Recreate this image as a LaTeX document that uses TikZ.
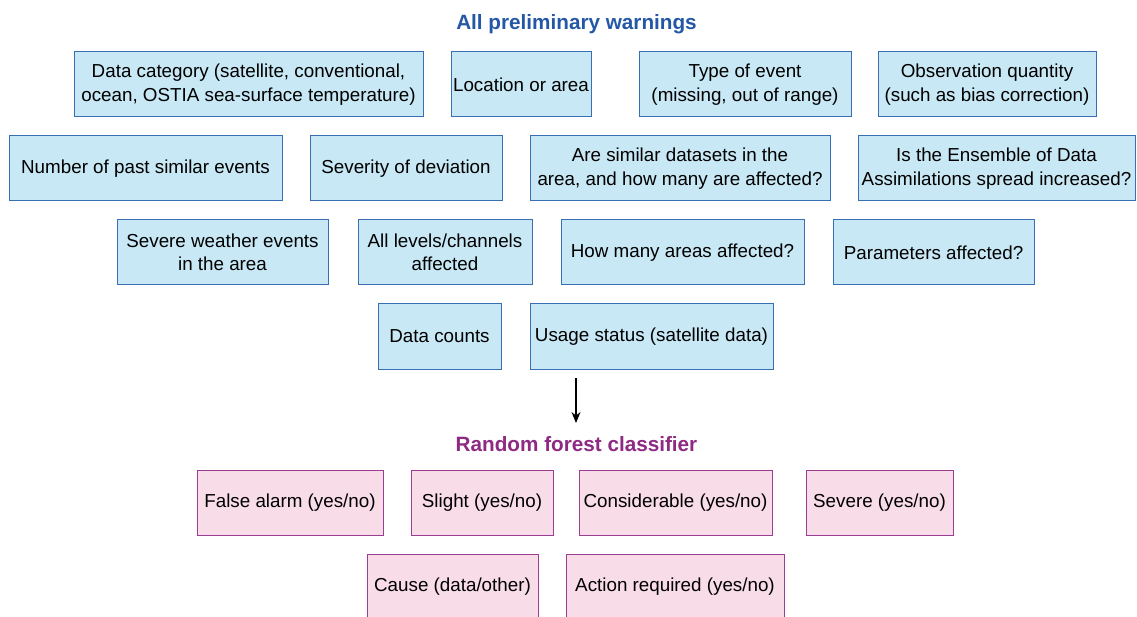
\documentclass[tikz,border=0pt]{standalone}
\usepackage{fontspec}
\setmainfont{Liberation Sans}
\usetikzlibrary{arrows.meta}
\definecolor{bfill}{HTML}{C8E8F5}
\definecolor{bdraw}{HTML}{3A6FB5}
\definecolor{pfill}{HTML}{F8DCE7}
\definecolor{pdraw}{HTML}{9A3D93}
\definecolor{ttlblue}{HTML}{2458A6}
\definecolor{ttlpurple}{HTML}{8E2A84}
\tikzset{
  box/.style={rectangle, line width=1pt, inner sep=0pt, minimum height=65pt, align=center,
    font=\fontsize{18.8}{23.5}\selectfont, text=black},
  bbox/.style={box, fill=bfill, draw=bdraw},
  pbox/.style={box, fill=pfill, draw=pdraw},
  ttl/.style={font=\fontsize{20.7}{24}\selectfont\bfseries, inner sep=0pt},
}
\begin{document}
\begin{tikzpicture}[x=1pt,y=-1pt]
\useasboundingbox[fill=white] (0,0) rectangle (1137,617);
\clip (0,0) rectangle (1137,617);
\node[ttl, text=ttlblue] (t1) at (576.5,24) {All preliminary warnings};
% row 1
\node[bbox, minimum width=349pt] (d1) at (248.5,84.5) {Data category (satellite, conventional,\\ocean, OSTIA sea-surface temperature)};
\node[bbox, minimum width=140pt] (d2) at (521,84.5) {Location or area};
\node[bbox, minimum width=212pt] (d3) at (745,84.5) {Type of event\\(missing, out of range)};
\node[bbox, minimum width=218pt] (d4) at (987,84.5) {Observation quantity\\(such as bias correction)};
% row 2
\node[bbox, minimum width=273pt] (e1) at (145.5,168.5) {Number of past similar events};
\node[bbox, minimum width=192pt] (e2) at (406,168.5) {Severity of deviation};
\node[bbox, minimum width=300pt] (e3) at (680,168.5) {Are similar datasets in the\\area, and how many are affected?};
\node[bbox, minimum width=277pt] (e4) at (996.5,168.5) {Is the Ensemble of Data\\Assimilations spread increased?};
% row 3
\node[bbox, minimum width=211pt] (f1) at (222.5,252.5) {Severe weather events\\in the area};
\node[bbox, minimum width=174pt] (f2) at (445,252.5) {All levels/channels\\affected};
\node[bbox, minimum width=243pt] (f3) at (682.5,252.5) {How many areas affected?};
\node[bbox, minimum width=201pt] (f4) at (933.5,252.5) {Parameters affected?};
% row 4
\node[bbox, minimum width=123pt] (g1) at (439.5,336.5) {Data counts};
\node[bbox, minimum width=243pt] (g2) at (651.5,336.5) {Usage status (satellite data)};
% arrow
\coordinate (a1) at (576,378);
\coordinate (a2) at (576,423);
\draw[line width=1.3pt, -{Stealth[length=11pt,width=9pt]}] (a1) -- (a2);
\node[ttl, text=ttlpurple] (t2) at (576.5,444) {Random forest classifier};
% row 5
\node[pbox, minimum width=186pt] (h1) at (290,502.5) {False alarm (yes/no)};
\node[pbox, minimum width=142pt] (h2) at (482,502.5) {Slight (yes/no)};
\node[pbox, minimum width=193pt] (h3) at (675.5,502.5) {Considerable (yes/no)};
\node[pbox, minimum width=147pt] (h4) at (879.5,502.5) {Severe (yes/no)};
% row 6
\node[pbox, minimum width=171pt] (i1) at (452.5,586.5) {Cause (data/other)};
\node[pbox, minimum width=218pt] (i2) at (675,586.5) {Action required (yes/no)};
\end{tikzpicture}
\end{document}
